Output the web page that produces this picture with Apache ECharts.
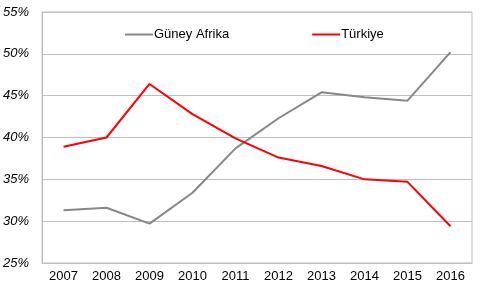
<!DOCTYPE html>
<html><head><meta charset="utf-8">
<script src="https://cdn.jsdelivr.net/npm/echarts@6/dist/echarts.min.js"></script>
<style>html,body{margin:0;padding:0;background:#fff}#c{width:481px;height:288px}</style>
</head><body><div id="c"></div>
<script>
const categories = ['2007','2008','2009','2010','2011','2012','2013','2014','2015','2016'];
const guneyAfrika = [31.3, 31.6, 29.7, 33.4, 38.7, 42.3, 45.4, 44.8, 44.4, 50.2];
const turkiye = [38.9, 40.0, 46.4, 42.8, 39.9, 37.6, 36.6, 35.0, 34.7, 29.4];
const seriesNames = ['Güney Afrika', 'Türkiye'];
const yMin = 25, yMax = 55, yStep = 5;

const chart = echarts.init(document.getElementById('c'), null, {renderer: 'canvas'});
const font = 'Liberation Sans, Arial, sans-serif';
chart.setOption({
  animation: false,
  backgroundColor: '#fff',
  grid: {left: 41, right: 9, top: 12, bottom: 25, show: true, borderColor: '#bfbfbf', borderWidth: 1},
  legend: {
    left: 125, top: 28, padding: 0, itemWidth: 28, itemHeight: 12, itemGap: 83,
    icon: 'path://M0,5 L28,5 L28,7 L0,7 Z',
    textStyle: {fontFamily: font, fontSize: 13, color: '#000', padding: [0, 0, 0, -4]},
    data: seriesNames
  },
  xAxis: {
    type: 'category', data: categories, boundaryGap: true,
    axisLine: {lineStyle: {color: '#bfbfbf'}}, axisTick: {show: false},
    axisLabel: {fontFamily: font, fontSize: 13, color: '#000', margin: 7}
  },
  yAxis: {
    type: 'value', min: yMin, max: yMax, interval: yStep,
    axisLine: {show: true, lineStyle: {color: '#bfbfbf'}}, axisTick: {show: false},
    splitLine: {lineStyle: {color: '#bfbfbf'}},
    axisLabel: {fontFamily: font, fontSize: 13, color: '#000', fontStyle: 'italic', margin: 13,
      formatter: v => v + '%'}
  },
  series: [
    {name: seriesNames[0], type: 'line', data: guneyAfrika, symbol: 'none',
     lineStyle: {color: '#878787', width: 2}, itemStyle: {color: '#878787'}},
    {name: seriesNames[1], type: 'line', data: turkiye, symbol: 'none',
     lineStyle: {color: '#ff0000', width: 2}, itemStyle: {color: '#ff0000'}}
  ]
});
</script></body></html>
